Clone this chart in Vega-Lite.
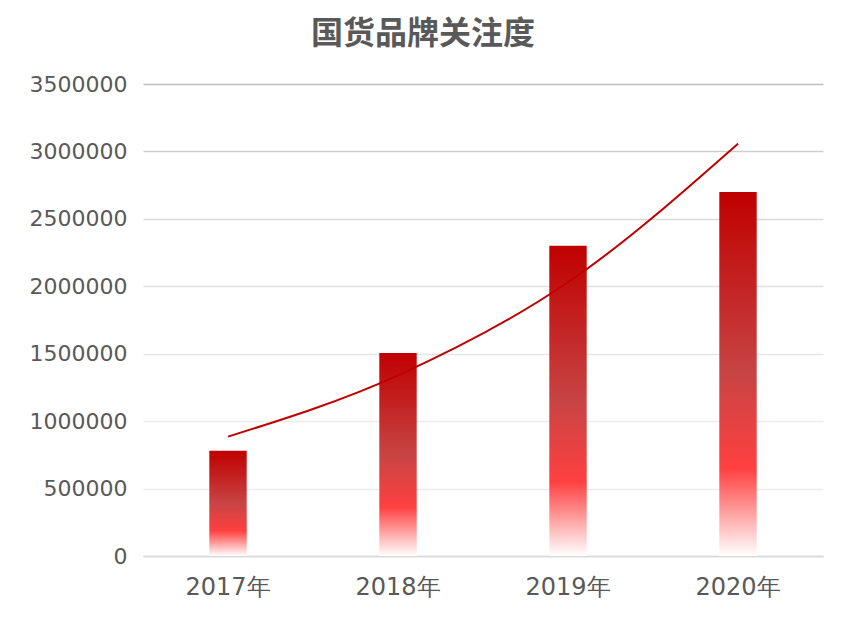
{
  "$schema": "https://vega.github.io/schema/vega-lite/v6.json",
  "width": 680,
  "height": 472,
  "autosize": {"type": "none"},
  "padding": {"left": 143, "top": 84, "right": 24, "bottom": 65},
  "background": "white",
  "title": {
    "text": "国货品牌关注度",
    "fontSize": 32,
    "font": "Noto Sans CJK SC",
    "fontWeight": "bold",
    "color": "#595959",
    "anchor": "middle",
    "frame": "group",
    "dx": -60,
    "offset": 22
  },
  "config": {
    "view": {"stroke": null},
    "axis": {"labelFont": "DejaVu Sans", "labelColor": "#595959"}
  },
  "data": {
    "values": [
      {"year": "2017年", "value": 780000, "trend": 885000},
      {"year": "2018年", "value": 1505000, "trend": 1340000},
      {"year": "2019年", "value": 2300000, "trend": 2030000},
      {"year": "2020年", "value": 2700000, "trend": 3058000}
    ]
  },
  "layer": [
    {
      "mark": {
        "type": "bar",
        "width": {"band": 0.22},
        "color": {
          "gradient": "linear",
          "x1": 0, "y1": 0, "x2": 0, "y2": 1,
          "stops": [
            {"offset": 0, "color": "#c00000"},
            {"offset": 0.5, "color": "#c84444"},
            {"offset": 0.76, "color": "#ff4040"},
            {"offset": 1, "color": "#ffffff"}
          ]
        }
      },
      "encoding": {
        "x": {
          "field": "year",
          "type": "nominal",
          "sort": null,
          "scale": {"paddingInner": 0, "paddingOuter": 0},
          "axis": {
            "title": null,
            "labelAngle": 0,
            "labelFontSize": 24,
            "labelPadding": 19,
            "ticks": false,
            "domainColor": "#d9d9d9",
            "domainWidth": 1.5
          }
        },
        "y": {
          "field": "value",
          "type": "quantitative",
          "scale": {"domain": [0, 3500000], "nice": false},
          "axis": {
            "title": null,
            "values": [0, 500000, 1000000, 1500000, 2000000, 2500000, 3000000, 3500000],
            "format": "d",
            "labelFontSize": 22,
            "labelPadding": 16,
            "ticks": false,
            "domain": false,
            "gridWidth": 1.5,
            "gridColor": {
              "condition": [
                {"test": "datum.value >= 3500000", "value": "#bfbfbf"},
                {"test": "datum.value >= 3000000", "value": "#cdcdcd"},
                {"test": "datum.value >= 2500000", "value": "#d9d9d9"},
                {"test": "datum.value >= 2000000", "value": "#e0e0e0"},
                {"test": "datum.value >= 1500000", "value": "#e6e6e6"},
                {"test": "datum.value >= 500000", "value": "#ececec"}
              ],
              "value": "#d9d9d9"
            }
          }
        }
      }
    },
    {
      "mark": {"type": "line", "color": "#c00000", "strokeWidth": 2, "interpolate": "monotone"},
      "encoding": {
        "x": {"field": "year", "type": "nominal", "sort": null},
        "y": {"field": "trend", "type": "quantitative"}
      }
    }
  ]
}
